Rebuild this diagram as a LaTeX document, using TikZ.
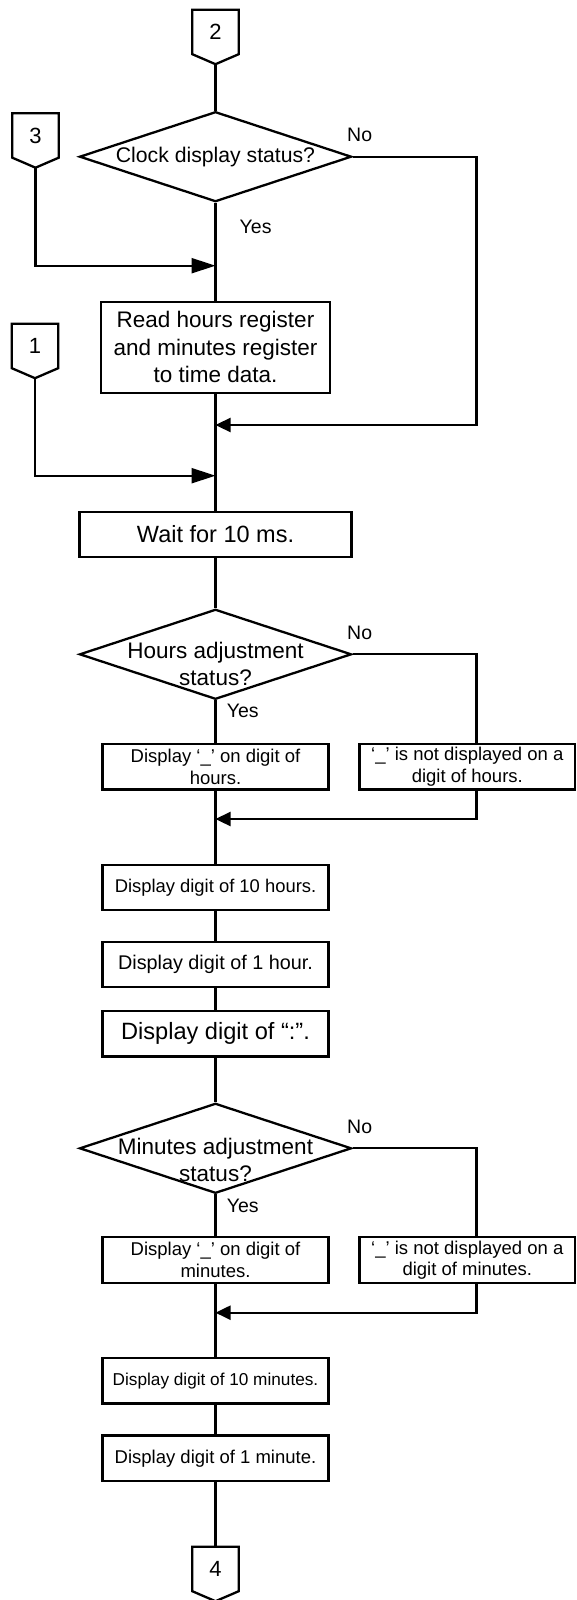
\documentclass[tikz,border=0pt]{standalone}
\usepackage{fontspec}
\setmainfont{Liberation Sans}
\usetikzlibrary{arrows.meta}
\usetikzlibrary{shapes.geometric}

\begin{document}
\begin{tikzpicture}[
    x=1pt, y=-1pt,
    line/.style={line width=2.3pt},
    box/.style={rectangle, draw, line, inner sep=0, minimum height=45.5pt, align=center},
    widebox/.style={box, minimum width=272pt},
    stepbox/.style={box, minimum width=226pt, font=\fontsize{18.5}{21.5}\selectfont},
    nobox/.style={box, minimum width=215.5pt, font=\fontsize{18.5}{21.5}\selectfont},
    decision/.style={diamond, draw, line, inner sep=0, minimum width=272pt, minimum height=90pt},
    question/.style={align=center, inner sep=0, font=\fontsize{22.5}{27}\selectfont},
    connector/.style={inner sep=0, minimum width=46pt, minimum height=44pt, font=\fontsize{22}{24}\selectfont},
    answer/.style={anchor=west, inner sep=0, font=\fontsize{19.5}{22}\selectfont},
    entry/.style={line, -{Triangle[length=24pt,width=15pt]}},
    back/.style={line, -{Triangle[length=15pt,width=14pt]}}
  ]
  \useasboundingbox (0,0) rectangle (576,1600);

  \node[connector] (c2) at (215.5,32) {2};
  \node[connector] (c3) at (35.5,135.5) {3};
  \node[connector] (c1) at (35,346) {1};
  \node[connector] (c4) at (215.5,1569) {4};
  \foreach \c in {c2,c3,c1,c4}
    \draw[line] (\c.north west) -- (\c.north east) -- (\c.south east)
      -- ([yshift=-10pt]\c.south) -- (\c.south west) -- cycle;

  \node[decision] (clock) at (215.5,156.7) {};
  \node[question, font=\fontsize{21.2}{25}\selectfont] (clockq) at (clock) {Clock display status?};
  \node[box, minimum width=229pt, minimum height=91pt, font=\fontsize{22.5}{27.5}\selectfont]
    (read) at (215.5,347.2) {Read hours register\\and minutes register\\to time data.};
  \node[widebox, font=\fontsize{23.5}{27}\selectfont] (wait) at (215.5,534.5) {Wait for 10 ms.};

  \node[decision] (hadj) at (215.5,654.3) {};
  \node[question] (hadjq) at (215.5,663.5) {Hours adjustment\\status?};
  \node[stepbox] (hyes) at (215.5,766.7) {Display ‘\_’ on digit of\\hours.};
  \node[nobox] (hno) at (467.3,766.7) {‘\_’ is not displayed on a\\digit of hours.};
  \node[stepbox, font=\fontsize{18.4}{21}\selectfont] (h10) at (215.5,887.5) {Display digit of 10 hours.};
  \node[stepbox, font=\fontsize{19.8}{22}\selectfont] (h1) at (215.5,964.5) {Display digit of 1 hour.};
  \node[stepbox, font=\fontsize{23.6}{27}\selectfont] (colon) at (215.5,1033.8) {Display digit of “:”.};

  \node[decision] (madj) at (215.5,1148.3) {};
  \node[question] (madjq) at (215.5,1160) {Minutes adjustment\\status?};
  \node[stepbox] (myes) at (215.5,1260) {Display ‘\_’ on digit of\\minutes.};
  \node[nobox] (mno) at (467.3,1260) {‘\_’ is not displayed on a\\digit of minutes.};
  \node[stepbox, font=\fontsize{17.2}{20}\selectfont] (m10) at (215.5,1380.8) {Display digit of 10 minutes.};
  \node[stepbox] (m1) at (215.5,1458.3) {Display digit of 1 minute.};

  \node[answer] (clockno) at (347,135) {No};
  \node[answer] (clockyes) at (239.5,226.7) {Yes};
  \node[answer] (hadjno) at (347,633) {No};
  \node[answer] (hadjyes) at (226.7,711) {Yes};
  \node[answer] (madjno) at (347,1126.7) {No};
  \node[answer] (madjyes) at (226.7,1206) {Yes};

  \coordinate (rcol) at (476.5,0);
  \coordinate (jc3) at (215.5,265.7);
  \coordinate (jno) at (215.5,425);
  \coordinate (jc1) at (215.5,475.7);
  \coordinate (jh) at (215.5,819);
  \coordinate (jm) at (215.5,1312.7);

  \draw[line] ([yshift=-10pt]c2.south) -- (clock.north);
  \draw[line] (clock.south) -- (read.north);
  \draw[line] (read.south) -- (wait.north);
  \draw[entry] ([yshift=-10pt]c3.south) |- (jc3);
  \draw[entry] ([yshift=-10pt]c1.south) |- (jc1);
  \draw[back] (clock.east) -| (rcol |- jno) -- (jno);

  \draw[line] (wait.south) -- (hadj.north);
  \draw[line] (hadj.south) -- (hyes.north);
  \draw[line] (hadj.east) -| (rcol |- hno.north);
  \draw[back] (rcol |- hno.south) |- (jh);
  \draw[line] (hyes.south) -- (h10.north);
  \draw[line] (h10.south) -- (h1.north);
  \draw[line] (h1.south) -- (colon.north);
  \draw[line] (colon.south) -- (madj.north);

  \draw[line] (madj.south) -- (myes.north);
  \draw[line] (madj.east) -| (rcol |- mno.north);
  \draw[back] (rcol |- mno.south) |- (jm);
  \draw[line] (myes.south) -- (m10.north);
  \draw[line] (m10.south) -- (m1.north);
  \draw[line] (m1.south) -- (c4.north);
\end{tikzpicture}
\end{document}
